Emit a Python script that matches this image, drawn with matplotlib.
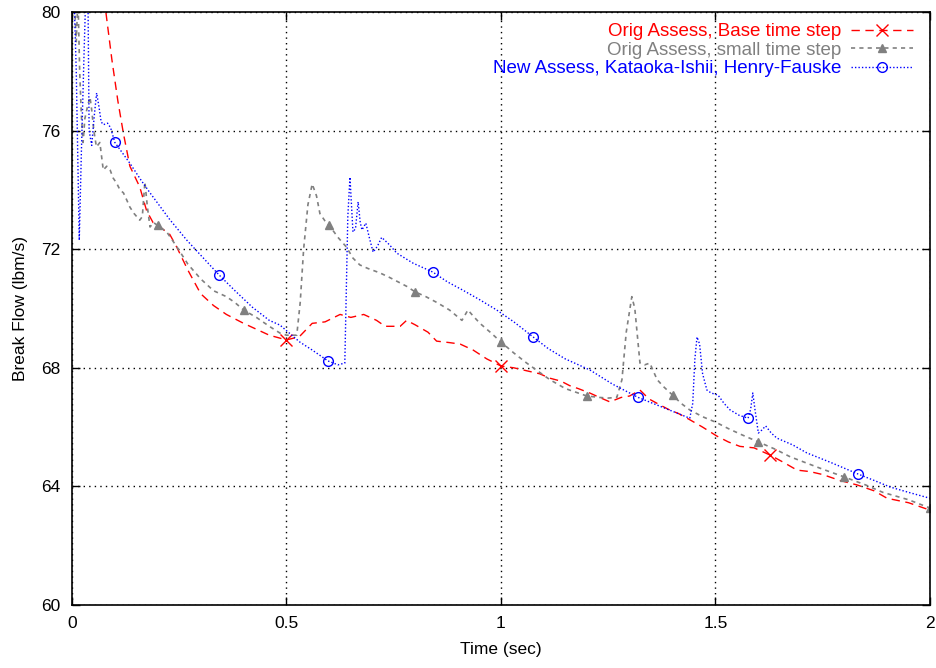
import numpy as np
import matplotlib
matplotlib.use("Agg")
import matplotlib.pyplot as plt

plt.rcParams['font.family'] = ['Liberation Sans', 'DejaVu Sans']

# Orig Assess, base time step
t_base = [0.060, 0.079, 0.093, 0.107, 0.120, 0.135, 0.158, 0.174, 0.189, 0.205,
          0.228, 0.245, 0.27, 0.30, 0.33, 0.36, 0.40, 0.43, 0.46, 0.50,
          0.53, 0.56, 0.59, 0.625, 0.65, 0.68, 0.71, 0.73, 0.765, 0.78,
          0.80, 0.83, 0.85, 0.88, 0.905, 0.935, 0.967, 1.00, 1.03, 1.06,
          1.09, 1.114, 1.14, 1.16, 1.18, 1.207, 1.23, 1.254, 1.28, 1.30,
          1.324, 1.345, 1.364, 1.39, 1.415, 1.44, 1.47, 1.503, 1.53, 1.557,
          1.59, 1.627, 1.66, 1.69, 1.72, 1.75, 1.79, 1.83, 1.87, 1.90,
          1.95, 2.00]
q_base = [84.0, 80.0, 78.4, 77.0, 75.9, 74.8, 74.1, 73.3, 72.9, 72.75,
          72.5, 72.05, 71.3, 70.5, 70.1, 69.8, 69.5, 69.3, 69.1, 68.94,
          69.05, 69.5, 69.55, 69.8, 69.7, 69.8, 69.6, 69.4, 69.4, 69.6,
          69.45, 69.2, 68.9, 68.85, 68.8, 68.6, 68.3, 68.06, 68.0, 67.9,
          67.8, 67.65, 67.55, 67.4, 67.3, 67.15, 67.0, 66.85, 67.0, 67.05,
          67.25, 66.95, 66.8, 66.6, 66.45, 66.25, 66.0, 65.7, 65.5, 65.35,
          65.3, 65.06, 64.8, 64.55, 64.5, 64.4, 64.2, 64.05, 63.85, 63.6,
          63.45, 63.2]
mark_base = [0.50, 1.00, 1.627]

# Orig Assess, small time step
t_small = [0.004, 0.010, 0.014, 0.018, 0.022, 0.026, 0.030, 0.036, 0.042, 0.046,
           0.051, 0.057, 0.065, 0.073, 0.081, 0.089, 0.096, 0.104, 0.112, 0.12,
           0.128, 0.135, 0.145, 0.158, 0.164, 0.170, 0.176, 0.182, 0.19, 0.20,
           0.221, 0.245, 0.27, 0.30, 0.33, 0.36, 0.38, 0.40, 0.43, 0.46,
           0.485, 0.50, 0.524, 0.532, 0.54, 0.55, 0.56, 0.57, 0.578, 0.59,
           0.60, 0.62, 0.64, 0.655, 0.671, 0.69, 0.718, 0.74, 0.76, 0.78,
           0.80, 0.825, 0.851, 0.88, 0.909, 0.923, 0.935, 0.951, 0.975, 1.00,
           1.03, 1.06, 1.085, 1.114, 1.15, 1.18, 1.20, 1.23, 1.25, 1.27,
           1.282, 1.292, 1.305, 1.312, 1.324, 1.335, 1.347, 1.364, 1.38, 1.40,
           1.42, 1.44, 1.47, 1.50, 1.53, 1.56, 1.60, 1.64, 1.674, 1.71,
           1.75, 1.80, 1.85, 1.89, 1.95, 2.00]
q_small = [81.0, 79.0, 80.5, 78.0, 76.5, 75.6, 76.4, 76.8, 77.13, 76.7,
           76.0, 75.45, 75.6, 74.67, 74.8, 74.67, 74.4, 74.23, 74.0, 73.9,
           73.65, 73.42, 73.2, 72.98, 73.1, 74.27, 73.4, 72.75, 72.9, 72.8,
           72.58, 72.07, 71.5, 71.0, 70.6, 70.4, 70.2, 69.95, 69.7, 69.4,
           69.17, 69.1, 69.1, 70.2, 72.0, 73.5, 74.2, 73.8, 73.2, 72.95,
           72.8, 72.4, 72.07, 71.7, 71.47, 71.35, 71.2, 71.05, 70.9, 70.75,
           70.56, 70.4, 70.2, 69.95, 69.6, 69.95, 69.75, 69.5, 69.2, 68.87,
           68.5, 68.16, 67.9, 67.6, 67.3, 67.15, 67.05, 67.0, 66.98, 67.0,
           67.6, 69.2, 70.4, 70.0, 68.16, 68.1, 68.16, 67.6, 67.35, 67.08,
           66.8, 66.58, 66.35, 66.17, 65.95, 65.75, 65.5, 65.25, 65.0, 64.8,
           64.58, 64.32, 64.05, 63.8, 63.55, 63.27]
mark_small = [0.20, 0.40, 0.60, 0.80, 1.00, 1.20, 1.40, 1.60, 1.80, 2.00]

# New Assess, Kataoka-Ishii, Henry-Fauske
t_new = [0.004, 0.010, 0.017, 0.022, 0.028, 0.033, 0.037, 0.040, 0.046, 0.052,
         0.0575, 0.063, 0.068, 0.073, 0.083, 0.090, 0.100, 0.115, 0.135, 0.16,
         0.182, 0.205, 0.228, 0.268, 0.30, 0.343, 0.38, 0.42, 0.46, 0.485,
         0.531, 0.56, 0.597, 0.62, 0.636, 0.643, 0.648, 0.655, 0.661, 0.667,
         0.672, 0.676, 0.685, 0.693, 0.702, 0.712, 0.722, 0.74, 0.757, 0.795,
         0.841, 0.875, 0.911, 0.95, 0.99, 1.03, 1.075, 1.11, 1.15, 1.207,
         1.26, 1.32, 1.38, 1.44, 1.447, 1.452, 1.457, 1.463, 1.47, 1.48,
         1.49, 1.506, 1.52, 1.534, 1.555, 1.576, 1.582, 1.587, 1.592, 1.60,
         1.608, 1.617, 1.63, 1.643, 1.68, 1.713, 1.77, 1.832, 1.87, 1.907,
         1.95, 2.00]
q_new = [81.0, 78.0, 72.3, 75.3, 78.5, 81.0, 81.0, 76.0, 75.5, 76.5,
         77.27, 76.8, 76.3, 76.2, 76.25, 76.1, 75.6, 75.3, 74.9, 74.35,
         73.9, 73.45, 73.0, 72.3, 71.8, 71.13, 70.6, 70.05, 69.6, 69.44,
         68.87, 68.6, 68.23, 68.1, 68.16, 73.1, 74.43, 72.58, 72.7, 73.6,
         72.9, 72.65, 72.88, 72.4, 71.9, 72.1, 72.4, 72.15, 71.87, 71.53,
         71.23, 70.9, 70.62, 70.3, 69.95, 69.55, 69.04, 68.65, 68.3, 67.93,
         67.45, 67.0, 66.65, 66.3, 66.8, 68.3, 69.04, 68.8, 67.8, 67.25,
         67.15, 67.08, 66.8, 66.58, 66.4, 66.3, 66.6, 67.15, 66.6, 65.8,
         65.9, 66.04, 65.8, 65.63, 65.4, 65.13, 64.8, 64.42, 64.2, 63.98,
         63.8, 63.6]
mark_new = [0.100, 0.343, 0.597, 0.841, 1.075, 1.32, 1.576, 1.832]

labels = ['Orig Assess, Base time step',
          'Orig Assess, small time step',
          'New Assess, Kataoka-Ishii, Henry-Fauske']

xticks = [0, 0.5, 1, 1.5, 2]
xticklabels = ['0', '0.5', '1', '1.5', '2']
yticks = [60, 64, 68, 72, 76, 80]


def marker_idx(t, marks):
    return [t.index(m) for m in marks]


fig = plt.figure(figsize=(9.37, 6.68), dpi=100)
ax = fig.add_axes([0.0768, 0.0943, 0.9157, 0.8877])

ax.plot(t_base, q_base, color='#ff0000', lw=1.0, ls=(0, (6, 4)),
        marker='x', ms=8, mew=1.0, markevery=marker_idx(t_base, mark_base),
        label=labels[0])
ax.plot(t_small, q_small, color='#808080', lw=1.2, ls=(0, (2.5, 2.5)),
        marker='^', ms=6, markevery=marker_idx(t_small, mark_small),
        label=labels[1])
ax.plot(t_new, q_new, color='#0000ff', lw=1.0, ls=(0, (1, 1.5)),
        marker='o', ms=7, mfc='none', mew=1.0,
        markevery=marker_idx(t_new, mark_new), label=labels[2])

ax.set_xlim(0, 2)
ax.set_ylim(60, 80)
ax.set_xticks(xticks)
ax.set_xticklabels(xticklabels)
ax.set_yticks(yticks)
ax.grid(True, color='black', ls=(0, (1, 3)), lw=1.0)
ax.tick_params(direction='in', length=6, width=1.0, top=True, right=True,
               labelsize=12.5, pad=8)
for s in ax.spines.values():
    s.set_linewidth(1.2)

ax.set_xlabel('Time (sec)', fontsize=12.5, labelpad=8)
ax.set_ylabel('Break Flow (lbm/s)', fontsize=12.5, labelpad=10)

# key sits inside the top-right corner, text before the sample line
leg = ax.legend(loc='upper right', frameon=False, markerfirst=False,
                labelcolor='linecolor', fontsize=13.5, handlelength=3.3,
                labelspacing=0.08, borderpad=0, borderaxespad=0,
                handletextpad=0.5,
                bbox_to_anchor=(913 / 937, 1 - 23 / 668),
                bbox_transform=fig.transFigure)

fig.savefig('out.png', dpi=100)
